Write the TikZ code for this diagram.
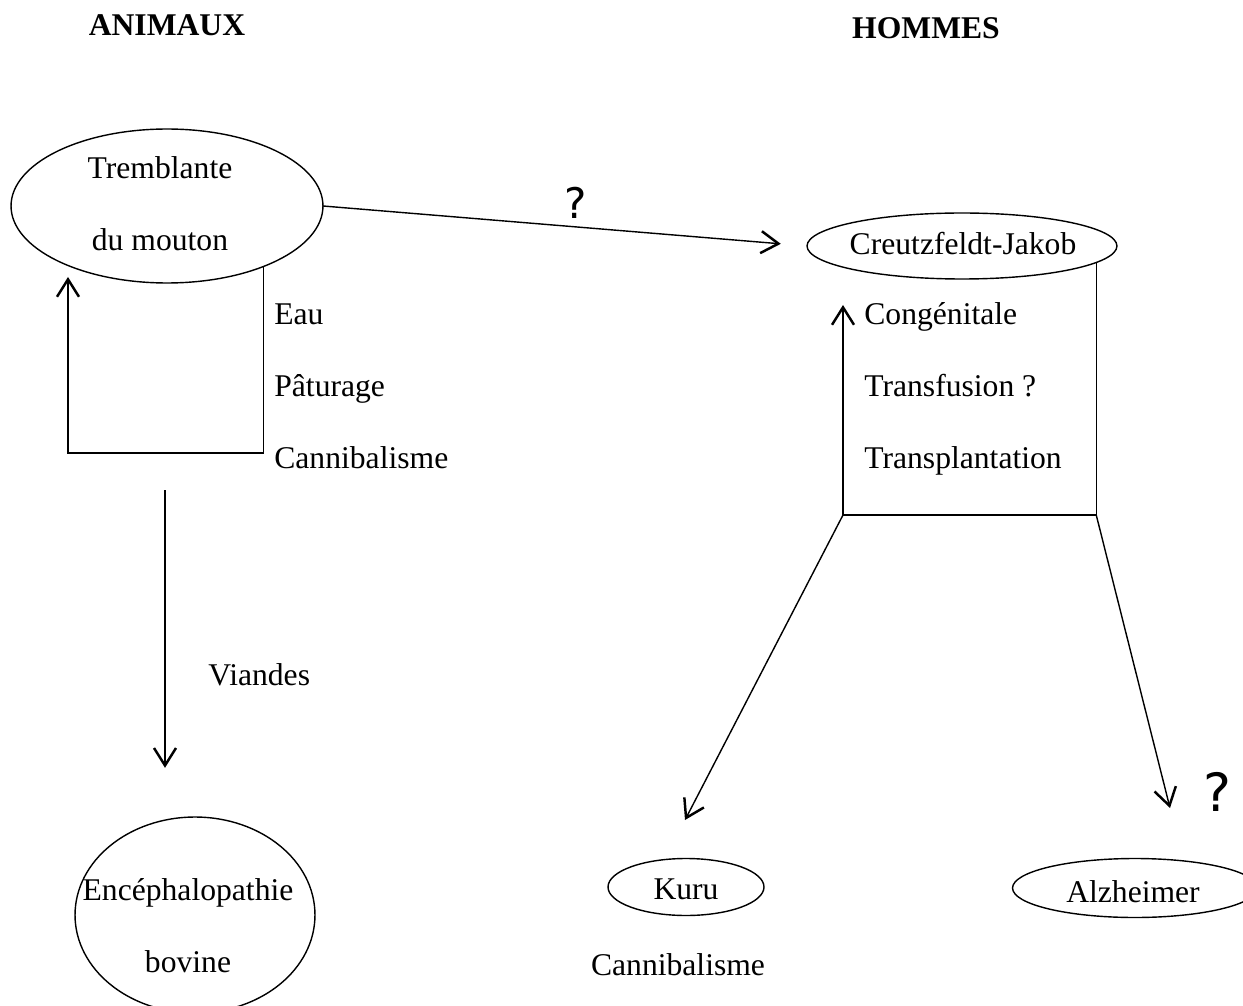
\documentclass[tikz,border=0pt]{standalone}
\usepackage{fontspec}
\setmainfont{Liberation Serif}
\newfontfamily\handfont{DejaVu Sans}
\usetikzlibrary{arrows.meta,shapes.geometric,calc}

\begin{document}
\begin{tikzpicture}[
  x=0.02cm, y=-0.02cm,
  font=\fontsize{18}{22}\selectfont,
  oval/.style  = {draw, ellipse, line width=0.8pt, inner sep=0pt, outer sep=0pt},
  txt/.style   = {inner sep=0pt, align=center},
  lbl/.style   = {inner sep=0pt, anchor=west, align=left},
  head/.style  = {inner sep=0pt, font=\fontsize{18}{22}\selectfont\bfseries},
  qm/.style    = {inner sep=0pt, font=\fontsize{24}{28}\selectfont\handfont},
  ln/.style    = {-{Straight Barb[length=3.5mm, width=4.4mm, line width=1.4pt]}, line width=0.8pt},
]
\clip (0,0) rectangle (1243,1006);

% --- titles ---------------------------------------------------------------------------------------
\node[head] (animaux) at (167,25) {ANIMAUX};
\node[head] (hommes)  at (926,28) {HOMMES};

% --- animals: scrapie, its loop, and the way to the cow -------------------------------------------
\node[oval, minimum width=6.24cm, minimum height=3.08cm] (tremb) at (167,206) {};
\node[txt] at (160,204) {Tremblante\\[19pt]du mouton};

\coordinate (loopBL) at (68,453);
\coordinate (trembIn) at (68,277);
\draw[ln] (tremb.-32) |- (loopBL) -- (trembIn);
\node[lbl] at (274,386) {Eau\\[19pt]P\^aturage\\[19pt]Cannibalisme};

\node[oval, minimum width=4.8cm, minimum height=3.92cm] (bse) at (195,915) {};
\node[txt] at (188,926) {Enc\'ephalopathie\\[19pt]bovine};

\coordinate (viaTop) at (165,490);
\draw[ln, shorten >=28pt] (viaTop) -- (viaTop |- bse.north);
\node[lbl] at (208,675) {Viandes};

% --- scrapie to man, with doubt -------------------------------------------------------------------
\node[oval, minimum width=6.2cm, minimum height=1.32cm] (cj) at (962,246) {};
\node[txt] at (963,244) {Creutzfeldt-Jakob};
\draw[ln, shorten >=15pt] (tremb.east) -- (cj.west);
\node[qm] at (576,203) {?};

% --- men: the box under Creutzfeldt-Jakob ---------------------------------------------------------
\coordinate (cjBL) at (843,515);
\coordinate (cjIn) at (843,305);
\coordinate (cjBR) at (cj.-7 |- cjBL);
\draw[ln] (cj.-7) |- (cjBL) -- (cjIn);
\node[lbl] at (864,389) {Cong\'enitale\\[19pt]Transfusion ?\\[19pt]Transplantation};

\node[oval, minimum width=3.12cm, minimum height=1.14cm] (kuru) at (686,887) {};
\node[txt] at (686,889) {Kuru};
\node[txt] (kurucan) at (678,965) {Cannibalisme};

% the right end of this one runs off the page
\node[oval, minimum width=4.9cm, minimum height=1.18cm] (alz) at (1135,888) {};
\node[txt] at (1133,892) {Alzheimer};

\coordinate (kuruTip) at (685,820);
\coordinate (alzTip) at (1170,808);
\draw[ln] (cjBL) -- (kuruTip);
\draw[ln] (cjBR) -- (alzTip);
\node[qm, font=\fontsize{30}{34}\selectfont\handfont] at (1217,792) {?};

\end{tikzpicture}
\end{document}
